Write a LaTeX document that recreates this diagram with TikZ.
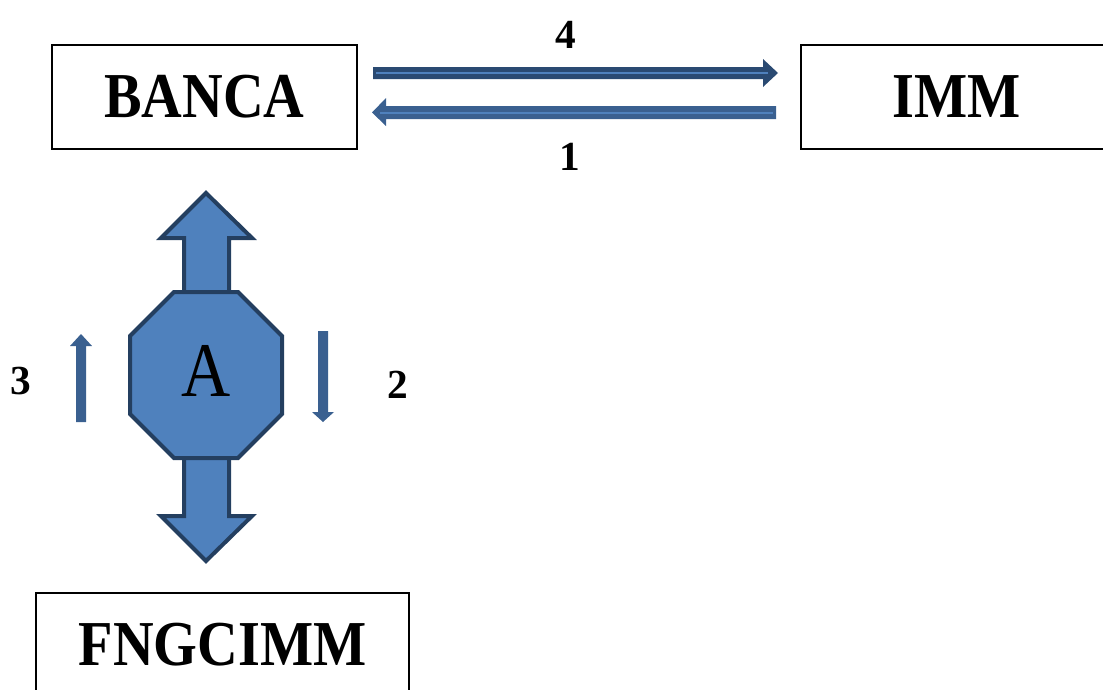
\documentclass[tikz,border=0pt]{standalone}
\usepackage{fontspec}
\setmainfont{Liberation Serif}
\newfontfamily\lblfont[FakeStretch=0.88]{Liberation Serif}
\definecolor{fillblue}{HTML}{4F81BD}
\definecolor{edgeblue}{HTML}{243F60}
\definecolor{darkarrow}{HTML}{2A4A72}
\definecolor{midblue}{HTML}{3A6090}
\tikzset{
  box/.style={draw=black,line width=1.1pt,fill=white,inner sep=0pt},
  boxtext/.style={font=\lblfont\fontsize{48}{48}\selectfont\bfseries},
  numtext/.style={font=\fontsize{31}{31}\selectfont\bfseries,inner sep=0pt},
  blockarrow/.style={fill=fillblue,draw=edgeblue,line width=3pt,line join=miter},
  thinline/.style={draw=fillblue,line width=1.5pt},
}
\begin{document}
\begin{tikzpicture}[x=0.75pt,y=-0.75pt]
\useasboundingbox (0,0) rectangle (1103,689);
% boxes
\node[box,boxtext,minimum width=228.75pt,minimum height=78pt] (banca) at (204.5,97) {BANCA};
\node[box,boxtext,minimum width=234pt,minimum height=78pt] (imm) at (957,97) {IMM};
\node[box,boxtext,minimum width=279.75pt,minimum height=78pt] (fng) at (222.5,645) {FNGCIMM};
% horizontal arrows
\fill[darkarrow] (373,67) -- (763,67) -- (763,59) -- (778,73) -- (763,87) -- (763,79) -- (373,79) -- cycle;
\draw[thinline] (376,73) -- (768,73);
\fill[midblue] (776,106) -- (386,106) -- (386,98) -- (372,112.5) -- (386,126) -- (386,119) -- (776,119) -- cycle;
\draw[thinline] (380,112.5) -- (773,112.5);
\node[numtext] (n4) at (566,35) {4};
\node[numtext] (n1) at (570,157) {1};
% block arrows
\path[blockarrow] (184,300) -- (184,238) -- (161,238) -- (206,193) -- (252,238) -- (229,238) -- (229,300) -- cycle;
\path[blockarrow] (184,450) -- (184,516) -- (161,516) -- (206,561) -- (252,516) -- (229,516) -- (229,450) -- cycle;
% octagon
\path[blockarrow] (174,292) -- (238,292) -- (282,336) -- (282,414) -- (238,458) -- (174,458) -- (130,414) -- (130,336) -- cycle;
\node[font=\lblfont\fontsize{58}{58}\selectfont,inner sep=0pt] (a) at (206,371) {A};
% small arrows
\fill[midblue] (76,422) -- (76,346) -- (70,346) -- (81,334) -- (92,346) -- (86,346) -- (86,422) -- cycle;
\fill[midblue] (318,331) -- (318,412) -- (312,412) -- (323,422) -- (334,412) -- (328,412) -- (328,331) -- cycle;
\node[numtext] (n3) at (21,381) {3};
\node[numtext] (n2) at (398,385) {2};
\end{tikzpicture}
\end{document}
